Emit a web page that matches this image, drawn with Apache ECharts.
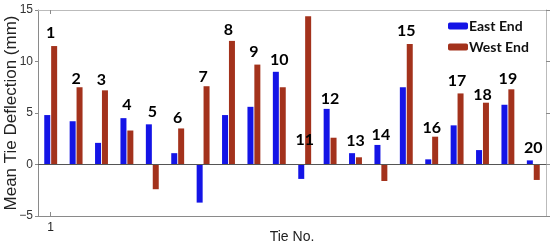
<!DOCTYPE html>
<html>
<head>
<meta charset="utf-8">
<script src="https://cdn.jsdelivr.net/npm/echarts@6/dist/echarts.min.js"></script>
<style>
  html, body { margin: 0; padding: 0; background: #fff; }
  #chart { width: 550px; height: 249px; }
</style>
</head>
<body>
<div id="chart"></div>
<script>
// tie numbers
var ties = ['1', '2', '3', '4', '5', '6', '7', '8', '9', '10',
  '11', '12', '13', '14', '15', '16', '17', '18', '19', '20']
// mean tie deflection (mm)
var eastEnd = [4.8, 4.2, 2.1, 4.5, 3.9, 1.1, -3.7, 4.8, 5.6, 9.0,
  -1.4, 5.4, 1.1, 1.9, 7.5, 0.5, 3.8, 1.4, 5.8, 0.4]
var westEnd = [11.5, 7.5, 7.2, 3.3, -2.4, 3.5, 7.6, 12.0, 9.7, 7.5,
  14.4, 2.6, 0.7, -1.6, 11.7, 2.7, 6.9, 6.0, 7.3, -1.5]
// height (mm) where each tie number is written
var labelY = [12.8, 8.3, 8.2, 5.8, 5.1, 4.5, 8.5, 13.1, 10.9, 10.2,
  2.4, 6.4, 2.3, 2.9, 13.0, 3.6, 8.1, 6.8, 8.3, 1.6]
var yTicks = [-5, 0, 5, 10, 15]

var axisGray = '#8a8a8a'

var option = {
  animation: false,
  grid: { left: 38, right: 4, top: 10, bottom: 33, outerBoundsMode: 'none', containLabel: false },
  legend: {
    orient: 'vertical',
    left: 443,
    top: 14,
    itemWidth: 20,
    itemHeight: 7,
    itemGap: 7,
    data: ['East End', 'West End'],
    textStyle: { fontFamily: 'Lato', fontSize: 14, fontWeight: 'bold', color: '#111', padding: [0, 0, 0, -4] }
  },
  xAxis: [
    {
      type: 'category',
      data: ties,
      position: 'bottom',
      name: 'Tie No.',
      nameLocation: 'middle',
      nameGap: 14,
      nameMoveOverlap: false,
      nameTextStyle: { fontFamily: 'Liberation Sans', fontSize: 14, color: '#222', verticalAlign: 'top' },
      axisLine: { onZero: false, lineStyle: { color: axisGray } },
      axisTick: { show: true, inside: true, length: 4, alignWithLabel: true, interval: function (i) { return i === 0 }, lineStyle: { color: axisGray } },
      axisLabel: { interval: function (i) { return i === 0 }, fontFamily: 'Liberation Sans', fontSize: 12, color: '#222', margin: 6 }
    },
    {
      type: 'category',
      data: ties,
      position: 'top',
      axisLine: { onZero: false, lineStyle: { color: '#bbb' } },
      axisTick: { show: true, inside: true, length: 4, alignWithLabel: true, interval: function (i) { return i === 0 }, lineStyle: { color: axisGray } },
      axisLabel: { show: false }
    }
  ],
  yAxis: [
    {
      type: 'value',
      min: -5,
      max: 15,
      interval: 5,
      name: 'Mean Tie Deflection (mm)',
      nameLocation: 'middle',
      nameGap: 18,
      nameMoveOverlap: false,
      nameTextStyle: { fontFamily: 'Liberation Sans', fontSize: 17, color: '#222' },
      axisLine: { show: true, lineStyle: { color: axisGray } },
      axisTick: { show: true, length: 3, lineStyle: { color: axisGray } },
      axisLabel: {
        fontFamily: 'Liberation Sans', fontSize: 12, color: '#333', margin: 5,
        formatter: function (v) { return yTicks.indexOf(v) >= 0 ? (v < 0 ? '\u2212' + (-v) : String(v)) : '' }
      },
      splitLine: { show: false }
    },
    {
      type: 'value',
      min: -5,
      max: 15,
      interval: 5,
      position: 'right',
      axisLine: { show: true, lineStyle: { color: '#bbb' } },
      axisTick: { show: true, length: 4, lineStyle: { color: axisGray } },
      axisLabel: { show: false },
      splitLine: { show: false }
    }
  ],
  series: [
    {
      name: 'East End',
      type: 'bar',
      data: eastEnd,
      barWidth: 6,
      barGap: '15%',
      itemStyle: { color: '#1414e6' },
      markLine: {
        silent: true,
        symbol: 'none',
        label: { show: false },
        lineStyle: { color: '#555', type: 'solid', width: 1 },
        data: [{ yAxis: 0 }]
      }
    },
    {
      name: 'West End',
      type: 'bar',
      data: westEnd,
      barWidth: 6,
      itemStyle: { color: '#a3321c' }
    },
    {
      type: 'scatter',
      data: labelY.map(function (y, i) { return [i, y] }),
      symbolSize: 0,
      silent: true,
      itemStyle: { opacity: 1 },
      label: {
        show: true,
        position: 'inside',
        formatter: function (p) { return ties[p.dataIndex] },
        fontFamily: 'Lato',
        fontWeight: 'bold',
        fontSize: 16,
        color: '#000'
      }
    }
  ]
}

var chart = echarts.init(document.getElementById('chart'))
chart.setOption(option)
</script>
</body>
</html>
